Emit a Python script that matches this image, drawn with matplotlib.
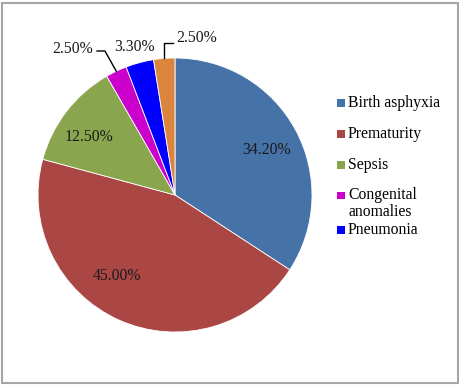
import numpy as np
import matplotlib
matplotlib.use("Agg")
import matplotlib.pyplot as plt
from matplotlib.patches import Rectangle

plt.rcParams['font.family'] = ['Liberation Serif', 'DejaVu Serif']

# data (clockwise from 12 o'clock)
causes = ["Birth asphyxia", "Prematurity", "Sepsis", "Congenital\nanomalies",
          "Pneumonia", "Others"]
shares = [34.2, 45.0, 12.5, 2.5, 3.3, 2.5]
colors = ["#4572A7", "#AA4643", "#89A54E", "#CC00CC", "#0000FF", "#DB843D"]

W, H = 465, 388
fig = plt.figure(figsize=(W / 100, H / 100), dpi=100)

# outer frame
fig.add_artist(Rectangle((1.5 / W, 1 - 383 / H), 456 / W, 380 / H,
                         transform=fig.transFigure, fill=False,
                         edgecolor="#A6A6A6", linewidth=1.5))

# pie placed so its centre is at (175, 195) px, radius 137 px
cx, cy, r = 175, 195, 137
ax = fig.add_axes([(cx - r) / W, 1 - (cy + r) / H, 2 * r / W, 2 * r / H])
wedges, _ = ax.pie(shares, colors=colors, startangle=90, counterclock=False,
                   radius=1, wedgeprops=dict(edgecolor="white", linewidth=0.6))
ax.set_xlim(-1, 1)
ax.set_ylim(-1, 1)
ax.set_aspect("equal")
ax.axis("off")

# label placement (Excel "best fit" look)
label_pos = [(0.668, 0.328), (-0.423, -0.591), (-0.631, 0.423),
             (-0.745, 1.066), (-0.292, 1.080), (0.157, 1.146)]
for val, (x, y) in zip(shares, label_pos):
    ax.text(x, y, f"{val:.2f}%", ha="center", va="center", fontsize=11.3,
            color="#1a1a1a", clip_on=False)

# leader lines for the two small slices
def mid_point(w):
    a = np.deg2rad((w.theta1 + w.theta2) / 2)
    return np.cos(a), np.sin(a)

mx, my = mid_point(wedges[3])
ax.plot([-0.569, -0.511, mx], [1.051, 1.051, my], color="black", lw=1,
        clip_on=False)
ox, oy = mid_point(wedges[5])
ax.plot([ox, ox, -0.015], [oy, 1.110, 1.110], color="black", lw=1,
        clip_on=False)

# legend (first five categories)
leg_y = [103, 134, 165, 196, 230]
for i, y in enumerate(leg_y):
    fig.add_artist(Rectangle((337 / W, 1 - (y + 3.5) / H), 7.5 / W, 7.5 / H,
                             transform=fig.transFigure, facecolor=colors[i],
                             edgecolor="none"))
    multi = "\n" in causes[i]
    fig.text(348 / W, 1 - (y - 9) / H if multi else 1 - y / H, causes[i],
             ha="left", va="top" if multi else "center",
             fontsize=11.3, linespacing=1.05)

fig.savefig("out.png", dpi=100)
